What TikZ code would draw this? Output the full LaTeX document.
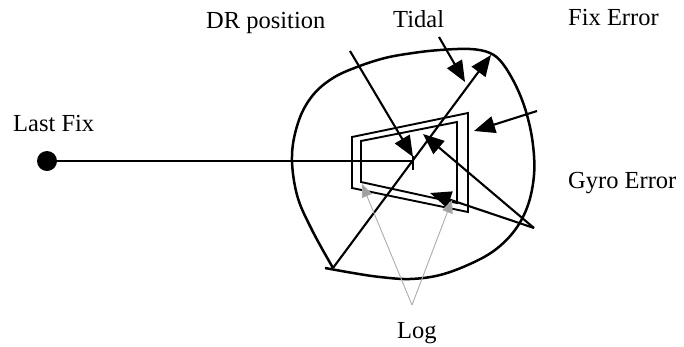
\documentclass[tikz,border=0pt]{standalone}
\usepackage{fontspec}
\setmainfont{Liberation Serif}
\usetikzlibrary{arrows.meta}
\begin{document}
\begin{tikzpicture}[x=1pt,y=-1pt,
  lbl/.style={anchor=base west, inner sep=0pt, font=\fontsize{24.5}{29}\selectfont},
  ln/.style={line width=2.1pt},
  arr/.style={ln, -{Triangle[length=21pt,width=17pt]}},
  logarr/.style={line width=0.9pt, draw=gray!65, -{Triangle[length=13pt,width=11pt,fill=gray!75]}},
  quad/.style={line width=1.9pt, line join=miter},
  blob/.style={line width=2.5pt}]
\useasboundingbox (0,0) rectangle (684,346);

% labels
\node[lbl] (lastfix) at (13,131) {Last Fix};
\node[lbl] (drlbl) at (206,28) {DR position};
\node[lbl] (tidallbl) at (393,27) {Tidal};
\node[lbl] (fixerr) at (568,25) {Fix Error};
\node[lbl] (gyro) at (568,188) {Gyro Error};
\node[lbl] (loglbl) at (397,338) {Log};

% error blob
\draw[blob] plot[smooth, tension=0.6] coordinates {
 (325,268) (353,273) (380,277) (410,279) (440,275) (470,264) (495,250)
 (515,230) (528,205) (534,175) (533,145) (527,115) (517,88) (503,64)
 (490,53) (470,49) (440,50) (413,53) (385,58) (357,67) (333,78)
 (313,95) (299,120) (292,155) (297,195) (312,230) (333,268)};

% rectangles
\draw[quad] (352,137) -- (468,113) -- (468,212) -- (352,188) -- cycle;
\draw[quad] (361,141) -- (457,122) -- (457,203) -- (361,182) -- cycle;

% last fix and track
\node[circle, fill, inner sep=0pt, minimum size=20pt] (fix) at (47,161) {};
\coordinate (dr) at (413,161);
\coordinate (drtop) at (413,156);
\coordinate (drbot) at (413,170);
\draw[line width=1.5pt] (fix.center) -- (dr);
\draw[line width=1.5pt] (drtop) -- (drbot);

% DR position arrow
\coordinate (drs) at (350,51);
\coordinate (drt) at (413,157);
\draw[arr] (drs) -- (drt);

% Tidal arrow
\coordinate (tds) at (439,37);
\coordinate (tdt) at (465,82);
\draw[arr] (tds) -- (tdt);

% Fix line
\coordinate (fxs) at (333,268);
\coordinate (fxt) at (491,55);
\draw[arr] (fxs) -- (fxt);

% Fix error arrow
\coordinate (fes) at (537,111);
\coordinate (fet) at (474,131);
\draw[arr] (fes) -- (fet);

% Gyro error arrows
\coordinate (gys) at (534,228);
\coordinate (gyt1) at (423,134);
\coordinate (gyt2) at (430,193);
\draw[arr] (gys) -- (gyt1);
\draw[arr] (gys) -- (gyt2);

% Log arrows
\coordinate (lgs) at (412,305);
\coordinate (lgt1) at (362,184);
\coordinate (lgt2) at (452,200);
\draw[logarr] (lgs) -- (lgt1);
\draw[logarr] (lgs) -- (lgt2);
\end{tikzpicture}
\end{document}
